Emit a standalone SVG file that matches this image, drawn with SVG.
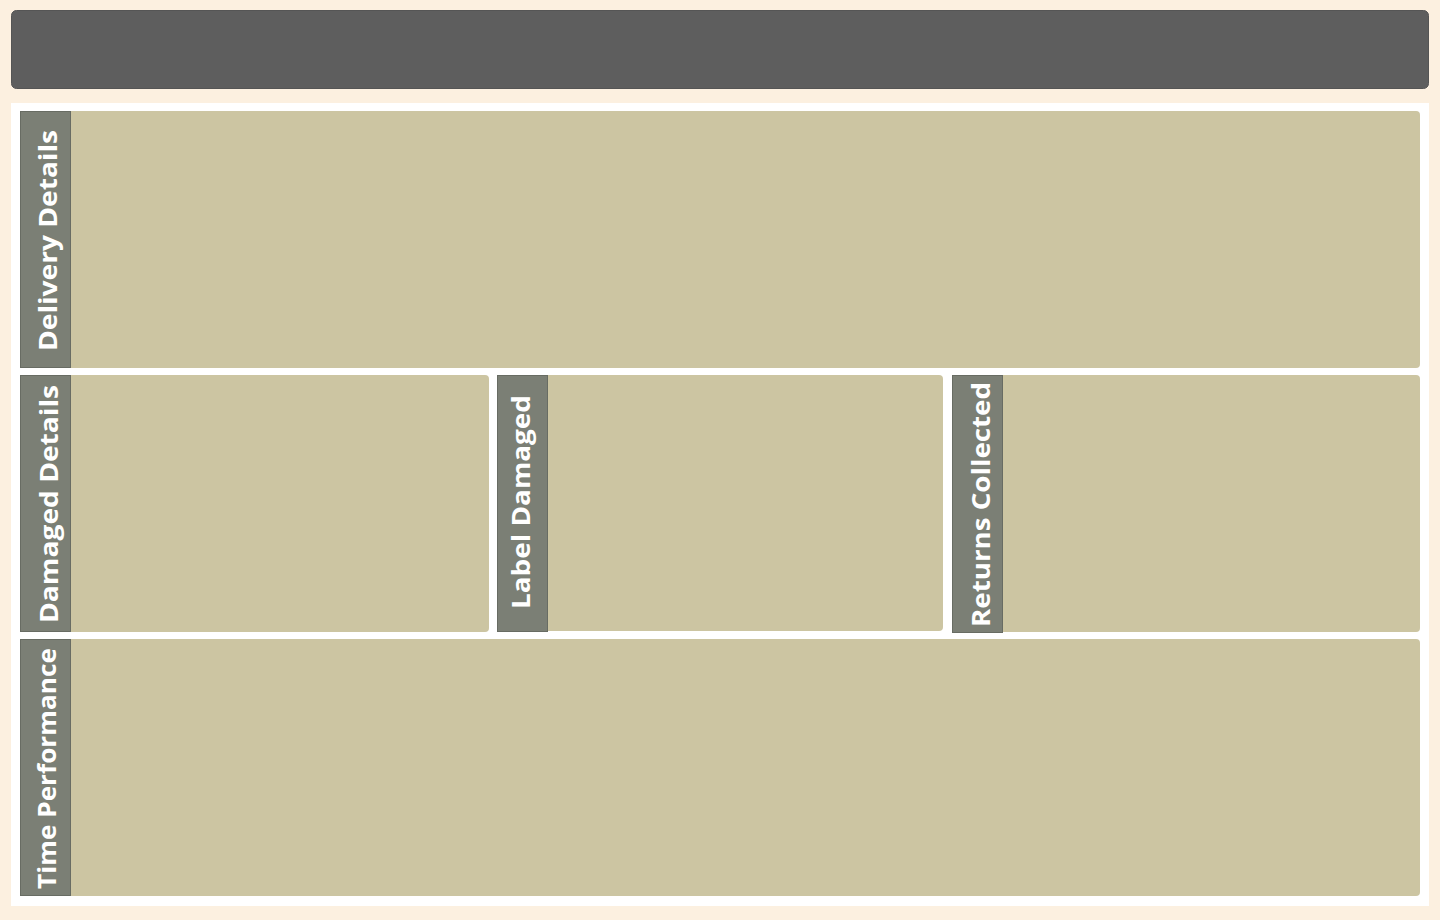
<svg xmlns="http://www.w3.org/2000/svg" width="1440" height="920" viewBox="0 0 1440 920">
<style>
.lbl{fill:#7B7F75;stroke:#686C63;stroke-width:1}
.body{fill:#CCC5A2}
.t{font-family:"Open Sans","Noto Sans","Liberation Sans",sans-serif;font-weight:700;font-size:25px;fill:#FFFFFF;text-anchor:middle}
</style>
<rect x="0" y="0" width="1440" height="920" fill="#FCF0E0"/>
<g id="header">
<rect x="11.5" y="10.5" width="1417" height="78" rx="5" fill="#5E5E5E" stroke="#555555" stroke-width="1"/>
</g>
<g id="panel">
<rect x="11" y="103" width="1418" height="803" fill="#FFFFFF"/>
</g>
<g id="delivery-details">
<rect class="body" x="20" y="111" width="1400" height="257" rx="4"/>
<rect class="lbl" x="20.5" y="111.5" width="50" height="256"/>
<text class="t" transform="translate(57,240.5) rotate(-90)" textLength="221" lengthAdjust="spacingAndGlyphs">Delivery Details</text>
</g>
<g id="damaged-details">
<rect class="body" x="20" y="375" width="469" height="257" rx="4"/>
<rect class="lbl" x="20.5" y="375.5" width="50" height="256"/>
<text class="t" transform="translate(58,504) rotate(-90)" textLength="238" lengthAdjust="spacingAndGlyphs">Damaged Details</text>
</g>
<g id="label-damaged">
<rect class="body" x="497" y="375" width="446" height="256" rx="4"/>
<rect class="lbl" x="497.5" y="375.5" width="50" height="256"/>
<text class="t" transform="translate(530,502) rotate(-90)" textLength="214" lengthAdjust="spacingAndGlyphs">Label Damaged</text>
</g>
<g id="returns-collected">
<rect class="body" x="952" y="375" width="468" height="257" rx="4"/>
<rect class="lbl" x="952.5" y="375.5" width="50" height="257"/>
<text class="t" transform="translate(990,504.5) rotate(-90)" textLength="245" lengthAdjust="spacingAndGlyphs">Returns Collected</text>
</g>
<g id="time-performance">
<rect class="body" x="20" y="639" width="1400" height="257" rx="4"/>
<rect class="lbl" x="20.5" y="639.5" width="50" height="256"/>
<text class="t" transform="translate(56,768.5) rotate(-90)" textLength="241" lengthAdjust="spacingAndGlyphs">Time Performance</text>
</g>
<g id="connectors"></g>
</svg>
